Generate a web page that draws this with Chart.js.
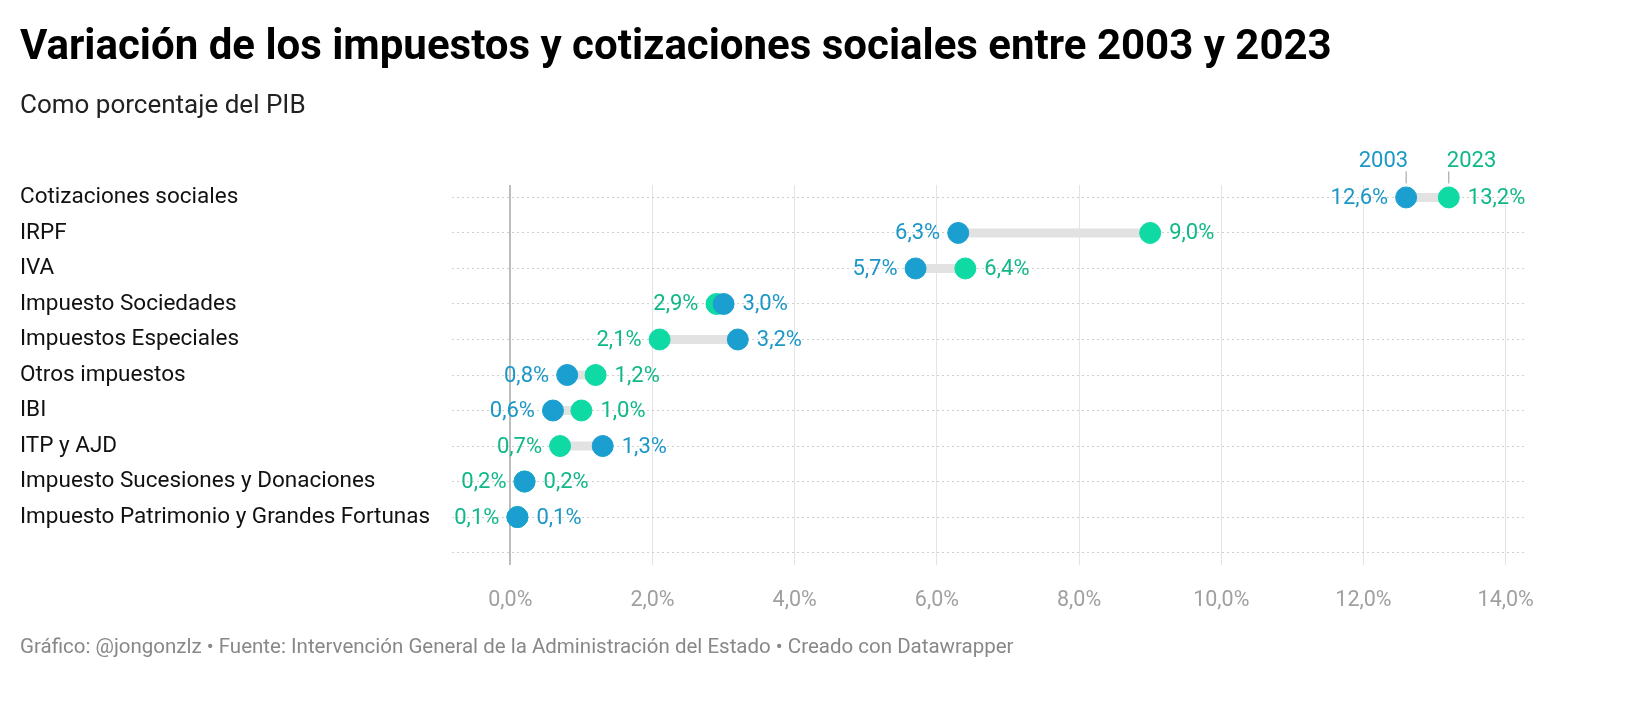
<!DOCTYPE html>
<html>
<head>
<meta charset="utf-8">
<script src="https://cdn.jsdelivr.net/npm/chart.js@4"></script>
<style>
  body { margin: 0; background: #fff; font-family: Roboto, sans-serif; }
  #wrap { position: absolute; left: 0; top: 0; width: 1640px; height: 710px; }
  h1 { position: absolute; left: 20px; top: 20px; margin: 0; font-size: 42px; font-weight: 700; color: #000; }
  .sub { position: absolute; left: 20px; top: 89px; font-size: 26px; color: #222; }
  .foot { position: absolute; left: 20px; top: 634px; font-size: 20.5px; color: #888; }
</style>
</head>
<body>
<div id="wrap"><canvas id="chart" width="1640" height="710"></canvas></div>
<h1>Variación de los impuestos y cotizaciones sociales entre 2003 y 2023</h1>
<div class="sub">Como porcentaje del PIB</div>
<div class="foot">Gráfico: @jongonzlz • Fuente: Intervención General de la Administración del Estado • Creado con Datawrapper</div>
<script>
var categories = ['Cotizaciones sociales', 'IRPF', 'IVA', 'Impuesto Sociedades', 'Impuestos Especiales',
    'Otros impuestos', 'IBI', 'ITP y AJD', 'Impuesto Sucesiones y Donaciones', 'Impuesto Patrimonio y Grandes Fortunas'];
var values2003 = [12.6, 6.3, 5.7, 3.0, 3.2, 0.8, 0.6, 1.3, 0.2, 0.1];
var values2023 = [13.2, 9.0, 6.4, 2.9, 2.1, 1.2, 1.0, 0.7, 0.2, 0.1];
var xTicks = [0, 2, 4, 6, 8, 10, 12, 14];

var blue = '#1b9fd0';
var green = '#0fdaa3';
var blueText = '#1c97c6';
var greenText = '#10b889';

function fmt(v) { return v.toFixed(1).replace('.', ',') + '%'; }

var dumbbell = {
    id: 'dumbbell',
    beforeDatasetsDraw: function (chart) {
        var ctx = chart.ctx, xs = chart.scales.x, ys = chart.scales.y;
        ctx.save();
        ctx.strokeStyle = '#e2e2e2';
        ctx.lineWidth = 9;
        for (var i = 0; i < categories.length; i++) {
            ctx.beginPath();
            ctx.moveTo(xs.getPixelForValue(values2003[i]), ys.getPixelForValue(i));
            ctx.lineTo(xs.getPixelForValue(values2023[i]), ys.getPixelForValue(i));
            ctx.stroke();
        }
        ctx.restore();
    },
    afterDatasetsDraw: function (chart) {
        var ctx = chart.ctx, xs = chart.scales.x, ys = chart.scales.y;
        ctx.save();
        ctx.font = '22px Roboto';
        ctx.textBaseline = 'middle';
        for (var i = 0; i < categories.length; i++) {
            var a = values2003[i], b = values2023[i], y = ys.getPixelForValue(i);
            var lo, hi, loCol, hiCol;
            if (a < b) { lo = a; hi = b; loCol = blueText; hiCol = greenText; }
            else if (a > b) { lo = b; hi = a; loCol = greenText; hiCol = blueText; }
            else { lo = b; hi = a; loCol = greenText; hiCol = (i == 8 ? greenText : blueText); }
            ctx.fillStyle = loCol;
            ctx.textAlign = 'right';
            ctx.fillText(fmt(lo), xs.getPixelForValue(lo) - 18, y + 1);
            ctx.fillStyle = hiCol;
            ctx.textAlign = 'left';
            ctx.fillText(fmt(hi), xs.getPixelForValue(hi) + 19, y + 1);
        }
        // legend labels above first row
        var y0 = ys.getPixelForValue(0);
        var xa = xs.getPixelForValue(values2003[0]), xb = xs.getPixelForValue(values2023[0]);
        ctx.strokeStyle = '#999';
        ctx.lineWidth = 1;
        ctx.beginPath();
        ctx.moveTo(xa, y0 - 14); ctx.lineTo(xa, y0 - 26);
        ctx.moveTo(xb, y0 - 14); ctx.lineTo(xb, y0 - 26);
        ctx.stroke();
        ctx.textBaseline = 'alphabetic';
        ctx.fillStyle = blueText;
        ctx.textAlign = 'right';
        ctx.fillText('2003', xa + 2, y0 - 30);
        ctx.fillStyle = greenText;
        ctx.textAlign = 'left';
        ctx.fillText('2023', xb - 2, y0 - 30);
        ctx.restore();
    }
};

new Chart(document.getElementById('chart'), {
    type: 'scatter',
    data: {
        datasets: [
            { label: '2003', data: values2003.map(function (v, i) { return { x: v, y: i }; }),
              backgroundColor: blue, borderColor: blue, pointRadius: 10.5, pointHoverRadius: 10.5 },
            { label: '2023', data: values2023.map(function (v, i) { return { x: v, y: i }; }),
              backgroundColor: green, borderColor: green, pointRadius: 10.5, pointHoverRadius: 10.5 }
        ]
    },
    options: {
        responsive: false,
        animation: false,
        layout: { padding: { left: 20, right: 113, top: 185, bottom: 0 } },
        plugins: { legend: { display: false }, tooltip: { enabled: false } },
        scales: {
            x: {
                min: -0.82, max: 14.3,
                afterBuildTicks: function (s) { s.ticks = xTicks.map(function (v) { return { value: v }; }); },
                afterFit: function (s) { s.height = 145; },
                ticks: { callback: function (v) { return fmt(v); }, color: '#a0a0a0', font: { family: 'Roboto', size: 21.5 }, padding: 23 },
                grid: {
                    color: function (c) { return c.tick && c.tick.value === 0 ? '#bdbdbd' : '#e3e3e3'; },
                    lineWidth: function (c) { return c.tick && c.tick.value === 0 ? 2 : 1; },
                    drawTicks: false
                },
                border: { display: false }
            },
            y: {
                reverse: true,
                min: -0.35, max: 10.35,
                afterBuildTicks: function (s) {
                    var t = [];
                    for (var i = 0; i <= categories.length; i++) t.push({ value: i });
                    s.ticks = t;
                },
                afterFit: function (s) { s.width = 432; },
                ticks: {
                    callback: function (v) { return categories[v] || ''; },
                    color: '#111', font: { family: 'Roboto', size: 22.5 }, crossAlign: 'far', padding: 0
                },
                grid: { color: '#cfcfcf', lineWidth: 1, drawTicks: false },
                border: { display: false, dash: [2, 3] }
            }
        }
    },
    plugins: [dumbbell]
});
</script>
</body>
</html>
